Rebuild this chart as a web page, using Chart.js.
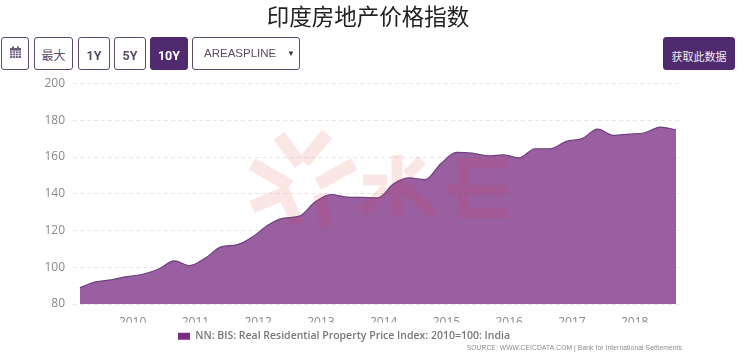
<!DOCTYPE html>
<html><head><meta charset="utf-8">
<script src="https://cdn.jsdelivr.net/npm/chart.js@4"></script>
<style>
html,body{margin:0;padding:0;background:#fff;width:740px;height:353px;overflow:hidden;font-family:"Noto Sans CJK SC",Roboto,sans-serif}
#wrap{position:relative;width:740px;height:353px}
#title{position:absolute;left:-2px;top:1px;width:740px;text-align:center;font-size:22.5px;line-height:28px;color:#222;font-family:"Noto Sans CJK SC"}
.btn{position:absolute;top:37px;height:33px;box-sizing:border-box;border:1.5px solid #5b4a6b;border-radius:3px;background:#fff;color:#5a4a66;font:bold 12.5px/35px Roboto,"Noto Sans CJK SC";text-align:center}
.on{background:#4f2a6e;border-color:#4f2a6e;color:#fff}
#c{position:absolute;left:0;top:0}
#wm{position:absolute;left:0;top:0;pointer-events:none}
#src{position:absolute;right:58px;top:343px;font:6.7px/10px "Liberation Sans";color:#8a8a8a;white-space:nowrap;letter-spacing:.1px}
</style></head><body>
<div id="wrap">
<canvas id="c" width="740" height="353"></canvas>
<svg id="wm" width="740" height="353" fill="none" stroke="rgba(225,60,60,0.13)" stroke-width="13">
<path d="M252 164L290 186M279 136L300 164M327 134L304 162M354 164L318 184M252 207L290 191M284 194L298 224M326 226L320 194"/>
<path stroke-width="11" d="M363 180H387M397 155V215M422 160L407 175M403 185L433 215M387 188L363 212"/>
<path stroke-width="10" d="M457 163H507M447 190H507M457 213H507M463 163V213"/>
</svg>
<div id="title">印度房地产价格指数</div>
<div class="btn" style="left:1px;width:28px;line-height:30px"><svg width="13" height="13" viewBox="0 0 13 13" style="margin-top:8px"><rect x="1" y="2" width="11" height="10" fill="#6a5a78"/><rect x="3" y="0.5" width="2" height="3" fill="#6a5a78"/><rect x="8" y="0.5" width="2" height="3" fill="#6a5a78"/><path d="M1 5h11M1 7.3h11M1 9.6h11M3.7 5v7M6.5 5v7M9.3 5v7" stroke="#fff" stroke-width=".7"/></svg></div>
<div class="btn" style="left:34px;width:39px;font-weight:normal;font-size:12px;line-height:36px">最大</div>
<div class="btn" style="left:78px;width:32px">1Y</div>
<div class="btn" style="left:114px;width:32px">5Y</div>
<div class="btn on" style="left:150px;width:38px">10Y</div>
<div class="btn" style="left:192px;width:108px;font:11.5px/30px 'Liberation Sans';text-align:left;padding-left:11px">AREASPLINE<span style="position:absolute;left:94px;top:1px;font-size:8px;color:#333">▼</span></div>
<div class="btn on" style="left:663px;width:72px;font-weight:normal;font-size:11px;line-height:36px;color:#eee;font-family:'Noto Sans CJK SC'">获取此数据</div>
<div id="src">SOURCE: WWW.CEICDATA.COM | Bank for International Settlements</div>
</div>
<script>
const quarterPositions=[2009.16,2009.41,2009.66,2009.91,2010.16,2010.41,2010.66,2010.91,2011.16,2011.41,2011.66,2011.91,2012.16,2012.41,2012.66,2012.91,2013.16,2013.41,2013.66,2013.91,2014.16,2014.41,2014.66,2014.91,2015.16,2015.41,2015.66,2015.91,2016.16,2016.41,2016.66,2016.91,2017.16,2017.41,2017.66,2017.91,2018.16,2018.41,2018.66];
const indexValues=[88.9,92,93.2,94.9,96.2,98.9,103.5,100.9,105,111.1,112.2,116.5,123,126.7,127.8,135.6,139.6,138.2,138,137.8,145.4,148.6,147.7,156.3,162.5,162.1,160.6,161.2,159.5,164.5,164.5,168.5,170,175.2,171.8,172.5,173.2,176.3,174.7];
const yearTicks=[2010,2011,2012,2013,2014,2015,2016,2017,2018];
const valueTicks=[80,100,120,140,160,180,200];
const seriesName='NN: BIS: Real Residential Property Price Index: 2010=100: India';

const placeLegend={id:'placeLegend',afterLayout(chart){
  const l=chart.legend;
  l.left=168;l.right=l.left+l.width;l.top=321;
}};
new Chart(document.getElementById('c'),{
  type:'line',
  plugins:[placeLegend],
  data:{datasets:[{label:seriesName,data:quarterPositions.map((x,i)=>({x,y:indexValues[i]})),
    borderColor:'#6f3f80',borderWidth:1.2,backgroundColor:'rgba(125,50,135,0.78)',fill:'start',pointRadius:0,cubicInterpolationMode:'monotone'}]},
  options:{responsive:false,animation:false,
    layout:{padding:{left:0,right:57,top:83.5,bottom:0}},
    plugins:{tooltip:{enabled:false},
      legend:{display:true,position:'bottom',align:'start',
        labels:{boxWidth:12,boxHeight:7,padding:10,color:'#777',useBorderRadius:false,font:{family:'Open Sans',size:10.5,weight:'600'},
          generateLabels:c=>[{text:seriesName,fillStyle:'#7b2a86',strokeStyle:'#7b2a86',lineWidth:0,fontColor:'#777'}]}}},
    scales:{
      x:{type:'linear',min:2009.05,max:2018.77,
        afterBuildTicks(s){s.ticks=yearTicks.map(v=>({value:v}));},
        afterFit(s){s.height=18.5;},
        ticks:{callback:v=>String(v),color:'#888',font:{family:'Open Sans',size:12},maxRotation:0,autoSkip:false,padding:3},
        grid:{display:false},border:{display:false}},
      y:{type:'linear',min:80,max:200,
        afterBuildTicks(s){s.ticks=valueTicks.map(v=>({value:v}));},
        afterFit(s){s.width=73;},
        ticks:{color:'#888',font:{family:'Open Sans',size:12},padding:8},
        grid:{color:'#e8e8e8',borderDash:[4,3],drawTicks:false},border:{display:false,dash:[4,3]}}
    }
  }
});
</script>
</body></html>
